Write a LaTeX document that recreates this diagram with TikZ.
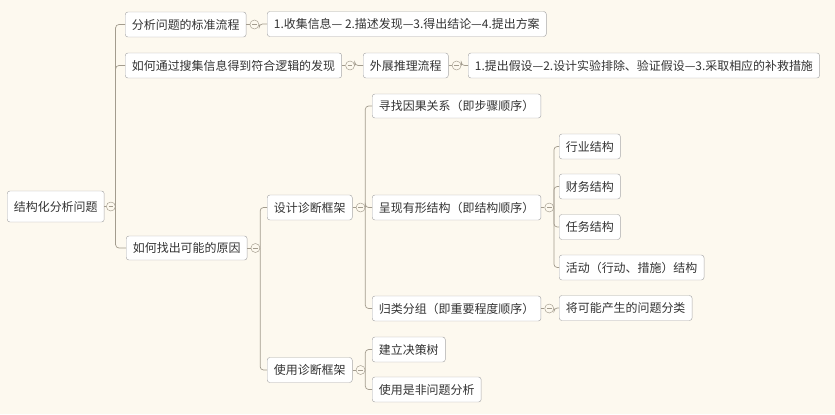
\documentclass[tikz,border=0pt]{standalone}
\usepackage{fontspec}
\setmainfont{Noto Sans CJK SC}
\usetikzlibrary{positioning}

\definecolor{bgcol}{HTML}{FDF9EF}
\definecolor{linecol}{HTML}{A39C8E}
\definecolor{boxcol}{HTML}{A9A9A9}
\definecolor{txtcol}{HTML}{333333}

\tikzset{
  topic/.style={draw=boxcol,fill=white,rounded corners=0.08cm,anchor=west,
    minimum height=0.75cm,inner xsep=0.2cm,inner ysep=0pt,text=txtcol,
    font=\fontsize{10.2}{12}\selectfont},
  fold/.style={draw=linecol,fill=bgcol,circle,minimum size=0.27cm,inner sep=0pt,
    path picture={\draw[linecol] ([xshift=-0.07cm]path picture bounding box.center)
      -- ([xshift=0.07cm]path picture bounding box.center);}},
  link/.style={draw=linecol,line width=0.6pt,rounded corners=0.1cm}
}

\begin{document}
\begin{tikzpicture}[x=0.03cm,y=-0.03cm]
  \useasboundingbox[fill=bgcol] (0,0) rectangle (835,414);

  % root
  \node[topic,minimum height=0.93cm] (root) at (7,206.5) {结构化分析问题};
  \node[fold,right=0.05cm of root] (c0) {};

  % first level
  \node[topic] (k1) at (125,24.5) {分析问题的标准流程};
  \node[topic] (k2) at (125,65.5) {如何通过搜集信息得到符合逻辑的发现};
  \node[topic,minimum height=0.72cm] (k3) at (126,248) {如何找出可能的原因};
  \node[fold,right=0.1cm of k1] (ck1) {};
  \node[fold,right=0.1cm of k2] (ck2) {};
  \node[fold,right=0.1cm of k3] (ck3) {};

  \node[topic] (k1a) at (267,24) {1.收集信息— 2.描述发现—3.得出结论—4.提出方案};
  \node[topic] (k2a) at (363,65.5) {外展推理流程};
  \node[fold,right=0.1cm of k2a] (ck2a) {};
  \node[topic] (k2b) at (468,65.5) {1.提出假设—2.设计实验排除、验证假设—3.采取相应的补救措施};

  % diagnosis frameworks
  \node[topic] (d1) at (267,207.5) {设计诊断框架};
  \node[topic] (d2) at (267,370) {使用诊断框架};
  \node[fold,right=0.1cm of d1] (cd1) {};
  \node[fold,right=0.1cm of d2] (cd2) {};

  \node[topic,minimum height=0.72cm] (s1) at (372,106) {寻找因果关系（即步骤顺序）};
  \node[topic] (s2) at (372,207.5) {呈现有形结构（即结构顺序）};
  \node[topic] (s3) at (372,308.5) {归类分组（即重要程度顺序）};
  \node[fold,right=0.1cm of s2] (cs2) {};
  \node[fold,right=0.1cm of s3] (cs3) {};
  \node[topic] (s3a) at (559,308) {将可能产生的问题分类};

  \node[topic] (t1) at (559,146.5) {行业结构};
  \node[topic] (t2) at (559,186.5) {财务结构};
  \node[topic] (t3) at (559,227) {任务结构};
  \node[topic] (t4) at (559,267.5) {活动（行动、措施）结构};

  \node[topic] (u1) at (372,349.5) {建立决策树};
  \node[topic] (u2) at (372,389.5) {使用是非问题分析};

  % connectors
  \foreach \p/\c in {root/c0,k1/ck1,k2/ck2,k3/ck3,k2a/ck2a,d1/cd1,d2/cd2,s2/cs2,s3/cs3}
    \draw[link] (\p.east) -- (\c.west);
  \foreach \c/\k in {c0/k1,c0/k2,c0/k3,ck1/k1a,ck2/k2a,ck2a/k2b,ck3/d1,ck3/d2,
      cd1/s1,cd1/s2,cd1/s3,cs3/s3a,cs2/t1,cs2/t2,cs2/t3,cs2/t4,cd2/u1,cd2/u2}
    \draw[link] (\c.east) |- (\k.west);

\end{tikzpicture}
\end{document}
